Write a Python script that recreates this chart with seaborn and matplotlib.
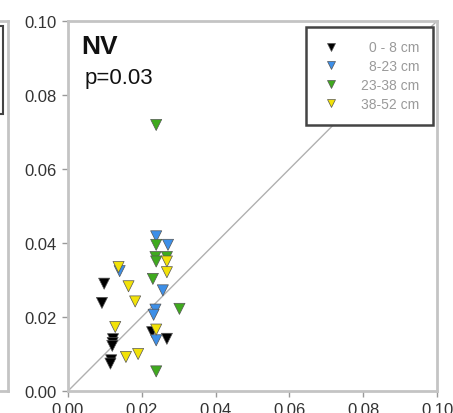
import matplotlib
matplotlib.use("Agg")
import matplotlib.pyplot as plt
import seaborn as sns
import pandas as pd
import numpy as np
from matplotlib.patches import Rectangle

sns.set_style("white")
plt.rcParams['font.family'] = ['Liberation Sans', 'DejaVu Sans']

# Data (x, y) per depth layer
black_x = [0.0098, 0.0092, 0.0122, 0.0121, 0.0120, 0.0117, 0.0115, 0.0228, 0.0268]
black_y = [0.0290, 0.0238, 0.0140, 0.0130, 0.0122, 0.0083, 0.0074, 0.0159, 0.0141]
blue_x = [0.0239, 0.0271, 0.0140, 0.0257, 0.0237, 0.0232, 0.0239]
blue_y = [0.0418, 0.0395, 0.0324, 0.0272, 0.0220, 0.0206, 0.0137]
green_x = [0.0239, 0.0239, 0.0237, 0.0268, 0.0239, 0.0230, 0.0302, 0.0239]
green_y = [0.0719, 0.0395, 0.0362, 0.0362, 0.0350, 0.0303, 0.0222, 0.0053]
yellow_x = [0.0137, 0.0164, 0.0182, 0.0268, 0.0268, 0.0128, 0.0239, 0.0157, 0.0190]
yellow_y = [0.0335, 0.0283, 0.0242, 0.0350, 0.0321, 0.0173, 0.0166, 0.0092, 0.0100]

layers = ["0 - 8 cm", "8-23 cm", "23-38 cm", "38-52 cm"]
colors = ["#000000", "#3d8fe8", "#3faa1e", "#f2e208"]

frames = []
for lab, xs, ys in zip(layers, [black_x, blue_x, green_x, yellow_x],
                       [black_y, blue_y, green_y, yellow_y]):
    frames.append(pd.DataFrame({"x": xs, "y": ys, "layer": lab}))
df = pd.concat(frames, ignore_index=True)

W, H = 453, 414
fig = plt.figure(figsize=(W / 100, H / 100), dpi=100)
ax = fig.add_axes([68 / W, (H - 392) / H, (437 - 68) / W, (392 - 22) / H])

# 1:1 line
ax.plot([0, 0.1], [0, 0.1], color="#b0b0b0", lw=1.0, zorder=1)

sns.scatterplot(data=df, x="x", y="y", hue="layer", hue_order=layers,
                palette=colors, marker="v", s=64, edgecolor="#555555",
                linewidth=0.5, ax=ax, zorder=3, legend=True)

ax.set_xlim(0, 0.1)
ax.set_ylim(0, 0.1)
ticks = [0.00, 0.02, 0.04, 0.06, 0.08, 0.10]
tick_labels = ["0.00", "0.02", "0.04", "0.06", "0.08", "0.10"]
ax.set_xticks(ticks)
ax.set_xticklabels(tick_labels)
ax.set_yticks(ticks)
ax.set_yticklabels(tick_labels)
ax.set_xlabel("")
ax.set_ylabel("")
ax.tick_params(axis="both", which="both", direction="out", length=4, width=1,
               color="#999999", labelsize=12, labelcolor="#333333", pad=4,
               bottom=True, left=True)
for sp in ax.spines.values():
    sp.set_color("#c4c4c4")
    sp.set_linewidth(2)

ax.text(0.035, 0.965, "NV", transform=ax.transAxes, fontsize=19,
        fontweight="bold", ha="left", va="top", color="#111111")
ax.text(0.045, 0.875, "p=0.03", transform=ax.transAxes, fontsize=16,
        ha="left", va="top", color="#111111")

handles, labels = ax.get_legend_handles_labels()
leg = ax.legend(handles, labels, loc="upper right",
                bbox_to_anchor=(0.99, 0.985), frameon=True, fancybox=False,
                fontsize=10, markerscale=0.75, handletextpad=1.4,
                borderpad=1.0, labelspacing=0.35, borderaxespad=0,
                labelcolor="#9a9a9a", handlelength=1.6)
leg.get_frame().set_edgecolor("#444444")
leg.get_frame().set_linewidth(1.8)
leg.get_frame().set_facecolor("white")
leg.get_frame().set_alpha(1)
leg.set_zorder(5)

# right-align legend labels
fig.canvas.draw()
texts = leg.get_texts()
widths = [t.get_window_extent().width for t in texts]
maxw = max(widths)
for t, w in zip(texts, widths):
    t.set_position((maxw - w, 0))

# partial neighbouring panel at the far left
axl = fig.add_axes([-0.5, (H - 392) / H, 0.5 + 8 / W, (392 - 22) / H])
axl.set_xticks([])
axl.set_yticks([])
for sp in axl.spines.values():
    sp.set_color("#c4c4c4")
    sp.set_linewidth(2)
fig.patches.append(Rectangle((-0.1, (H - 115) / H), 0.1 + 3 / W, (115 - 27) / H,
                             transform=fig.transFigure, fill=False,
                             edgecolor="#444444", lw=1.5))

fig.savefig("out.png", dpi=100)
